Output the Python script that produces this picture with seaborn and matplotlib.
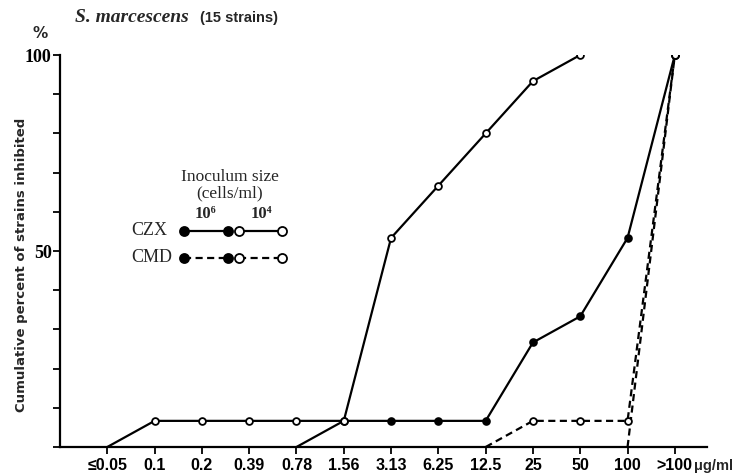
import numpy as np
import pandas as pd
import matplotlib
matplotlib.use("Agg")
import matplotlib.pyplot as plt
from matplotlib.lines import Line2D
import seaborn as sns

# MIC classes (ug/ml) on the x axis
concentrations = ["≤0.05", "0.1", "0.2", "0.39", "0.78", "1.56", "3.13",
                  "6.25", "12.5", "25", "50", "100", ">100"]
n_strains = 15

# cumulative number of strains inhibited at each concentration
# (NaN = curve not yet started; 0 = where the curve leaves the axis)
nan = np.nan
czx_1e6 = [nan, nan, nan, nan, 0, 1, 1, 1, 1, 4, 5, 8, 15]
czx_1e4 = [0, 1, 1, 1, 1, 1, 8, 10, 12, 14, 15, nan, nan]
cmd_1e6 = [nan, nan, nan, nan, nan, nan, nan, nan, nan, nan, nan, 0, 15]
cmd_1e4 = [nan, nan, nan, nan, nan, nan, nan, nan, 0, 1, 1, 1, 15]

series = [
    ("CZX", "10⁶", czx_1e6),
    ("CZX", "10⁴", czx_1e4),
    ("CMD", "10⁶", cmd_1e6),
    ("CMD", "10⁴", cmd_1e4),
]

rows = []
for drug, inoc, counts in series:
    for i, c in enumerate(counts):
        if not np.isnan(c):
            rows.append({"drug": drug, "inoculum": inoc, "pos": i,
                         "pct": 100.0 * c / n_strains})
df = pd.DataFrame(rows)

sns.set_theme(style="white")
plt.rcParams["font.family"] = ["DejaVu Sans"]

W, H = 737, 474
fig = plt.figure(figsize=(W / 100, H / 100), dpi=100)
ax = fig.add_axes([60 / W, 27 / H, 647 / W, 392 / H])


def fx(x):
    return x / W


def fy(y):
    return 1 - y / H


dash = (0, (3.2, 2.0))
styles = {
    ("CZX", "10⁶"): ("-", "black"),
    ("CZX", "10⁴"): ("-", "white"),
    ("CMD", "10⁶"): (dash, "black"),
    ("CMD", "10⁴"): (dash, "white"),
}

for (drug, inoc), (ls, face) in styles.items():
    sub = df[(df.drug == drug) & (df.inoculum == inoc)]
    sns.lineplot(data=sub, x="pos", y="pct", ax=ax, color="black",
                 linewidth=1.6, linestyle=ls, sort=False, estimator=None,
                 legend=False)
    pts = sub[sub.pct > 0]
    sns.scatterplot(data=pts, x="pos", y="pct", ax=ax, s=24,
                    color=face, edgecolor="black", linewidth=1.3,
                    zorder=5, legend=False)

ax.set_xlim(-1, 12.68)
ax.set_ylim(0, 100)
ax.set_xlabel("")
ax.set_ylabel("")

for s in ["top", "right"]:
    ax.spines[s].set_visible(False)
for s in ["left", "bottom"]:
    ax.spines[s].set_color("black")
    ax.spines[s].set_linewidth(1.6)

ax.set_xticks(range(len(concentrations)))
ax.set_xticklabels(concentrations, fontsize=11.5, fontweight="bold",
                   family=["Liberation Sans", "DejaVu Sans"])
yt = list(range(0, 101, 10))
ax.set_yticks(yt)
ax.set_yticklabels(["100" if v == 100 else "50" if v == 50 else "" for v in yt],
                   family="Liberation Serif", fontsize=13, fontweight="bold")
ax.tick_params(axis="both", direction="out", length=5, width=1.3,
               color="black", labelcolor="black", bottom=True, left=True)
ax.tick_params(axis="x", pad=3)
ax.tick_params(axis="y", pad=1)

# axis annotations
fig.text(fx(22), fy(265), "Cumulative percent of strains inhibited",
         rotation=90, ha="center", va="center", fontsize=9.5,
         fontweight="bold")
fig.text(fx(40), fy(33), "%", ha="center", va="center", fontsize=11,
         fontweight="bold")
fig.text(fx(694), fy(466), "μg/ml", ha="left", va="center", fontsize=10.5,
         fontweight="bold", family="Liberation Sans")

# title
fig.text(fx(75), fy(18), "S. marcescens", ha="left", va="center",
         fontsize=14, fontweight="bold", style="italic",
         family="Liberation Serif")
fig.text(fx(200), fy(18), "(15 strains)", ha="left", va="center",
         fontsize=10.5, fontweight="bold", family="Liberation Sans")

# key
serif = "Liberation Serif"
fig.text(fx(230), fy(177), "Inoculum size", ha="center", va="center",
         fontsize=12.5, family=serif)
fig.text(fx(230), fy(193), "(cells/ml)", ha="center", va="center",
         fontsize=12.5, family=serif)
fig.text(fx(205), fy(214), "10⁶", ha="center", va="center",
         fontsize=12, family=serif, fontweight="bold")
fig.text(fx(261), fy(214), "10⁴", ha="center", va="center",
         fontsize=12, family=serif, fontweight="bold")
for label, y, ls in [("CZX", 231, "-"), ("CMD", 258, dash)]:
    fig.text(fx(131), fy(y), label, ha="left", va="center", fontsize=13,
             family=serif)
    for x0, x1, face in [(184, 228, "black"), (239, 282, "white")]:
        fig.add_artist(Line2D([fx(x0), fx(x1)], [fy(y), fy(y)],
                              transform=fig.transFigure, color="black",
                              linewidth=1.6, linestyle=ls, marker="o",
                              markersize=6.5, markerfacecolor=face,
                              markeredgecolor="black", markeredgewidth=1.3))

fig.savefig("out.png", dpi=100, facecolor="white")
